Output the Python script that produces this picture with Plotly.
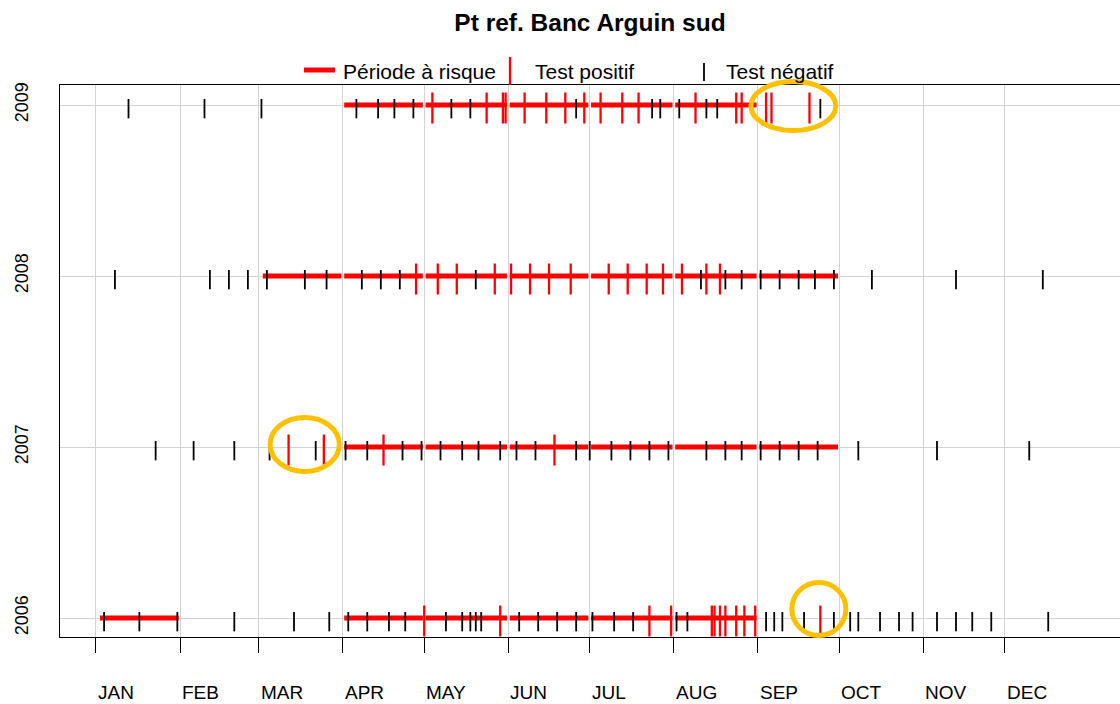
import pandas as pd
import plotly.graph_objects as go

# ---------------- data ----------------
title = "Pt ref. Banc Arguin sud"
years = [2006, 2007, 2008, 2009]
month_labels = ["JAN", "FEB", "MAR", "APR", "MAY", "JUN",
                "JUL", "AUG", "SEP", "OCT", "NOV", "DEC"]

risk_2006 = [("01-02", "02-01"), ("04-01", "09-01")]
risk_2007 = [("04-01", "10-01")]
risk_2008 = [("03-02", "10-01")]
risk_2009 = [("04-01", "09-01")]

neg_2006 = ["01-04", "01-17", "01-31", "02-21", "03-14", "03-27", "04-03", "04-10",
            "04-18", "04-24", "05-09", "05-15", "05-18", "05-20", "05-22", "06-05",
            "06-12", "06-19", "06-26", "07-02", "07-10", "07-17", "08-02", "08-06",
            "09-04", "09-07", "09-10", "09-18", "09-29", "10-05", "10-08", "10-16",
            "10-23", "10-28", "11-06", "11-13", "11-19", "11-26", "12-17"]
pos_2006 = ["05-01", "05-29", "07-23", "07-31", "08-15", "08-16", "08-18", "08-20",
            "08-24", "08-27", "08-31", "09-24"]

neg_2007 = ["01-23", "02-06", "02-21", "03-05", "03-22", "04-02", "04-10", "04-23",
            "04-30", "05-07", "05-15", "05-21", "05-29", "06-04", "06-11", "06-26",
            "07-01", "07-09", "07-16", "07-23", "07-30", "08-13", "08-20", "08-26",
            "09-02", "09-09", "09-16", "09-23", "10-08", "11-06", "12-10"]
pos_2007 = ["03-12", "03-25", "04-16", "06-18"]

neg_2008 = ["01-08", "02-12", "02-19", "02-26", "03-04", "03-18", "03-26", "04-08",
            "04-15", "04-22", "05-20", "08-11", "08-20", "08-26", "09-02", "09-09",
            "09-16", "09-22", "09-29", "10-13", "11-13", "12-15"]
pos_2008 = ["04-28", "05-06", "05-13", "05-27", "06-02", "06-09", "06-16", "06-24",
            "07-08", "07-15", "07-22", "07-28", "08-04", "08-13", "08-18"]

neg_2009 = ["01-13", "02-10", "03-02", "04-06", "04-14", "04-20", "04-27", "05-11",
            "05-18", "06-26", "07-24", "07-27", "08-03", "08-13", "08-17", "09-24"]
pos_2009 = ["05-04", "05-24", "05-30", "05-31", "06-07", "06-15", "06-22", "06-29",
            "07-05", "07-13", "07-19", "08-09", "08-24", "08-26", "09-04", "09-06",
            "09-20"]

risk = {2006: risk_2006, 2007: risk_2007, 2008: risk_2008, 2009: risk_2009}
neg = {2006: neg_2006, 2007: neg_2007, 2008: neg_2008, 2009: neg_2009}
pos = {2006: pos_2006, 2007: pos_2007, 2008: pos_2008, 2009: pos_2009}

# highlighted groups (day-of-year range, year range)
highlights = [((241.4, 272.7), (2008.851, 2009.137)),
              ((64.2, 89.7), (2006.857, 2007.173)),
              ((256.5, 276.4), (2005.898, 2006.208))]

# ---------------- helpers ----------------
REF = pd.Timestamp("2000-01-01")  # leap reference year


def doy(md):
    return (pd.Timestamp(f"2000-{md}") - REF).days


month_starts = [doy(f"{m:02d}-01") for m in range(1, 13)]

X_RANGE = [-13.25, 377.45]
Y_RANGE = [2005.889, 2009.117]

FONT = "Liberation Sans, Arial, sans-serif"
RED = "#FF0000"

# ---------------- traces ----------------
rx, ry = [], []
for yr in years:
    for s, e in risk[yr]:
        a, b = doy(s), doy(e)
        bounds = [a] + [m for m in month_starts if a < m < b] + [b]
        for i in range(len(bounds) - 1):
            rx += [bounds[i] + 0.5, bounds[i + 1] - 0.5, None]
            ry += [yr, yr, None]

nx, ny = [], []
for yr in years:
    for d in neg[yr]:
        nx += [doy(d), doy(d), None]
        ny += [yr - 0.078, yr + 0.035, None]

px_, py_ = [], []
for yr in years:
    for d in pos[yr]:
        px_ += [doy(d), doy(d), None]
        py_ += [yr - 0.108, yr + 0.073, None]

fig = go.Figure()
fig.add_trace(go.Scatter(x=rx, y=ry, mode="lines", line=dict(color=RED, width=5),
                         name="Période à risque", showlegend=False, hoverinfo="skip"))
fig.add_trace(go.Scatter(x=nx, y=ny, mode="lines", line=dict(color="black", width=1.8),
                         name="Test négatif", showlegend=False, hoverinfo="skip"))
fig.add_trace(go.Scatter(x=px_, y=py_, mode="lines", line=dict(color=RED, width=2.3),
                         name="Test positif", showlegend=False, hoverinfo="skip"))

# highlight ellipses (domain refs so they are not clipped)
for (xa, xb), (ya, yb) in highlights:
    fx = lambda v: (v - X_RANGE[0]) / (X_RANGE[1] - X_RANGE[0])
    fy = lambda v: (v - Y_RANGE[0]) / (Y_RANGE[1] - Y_RANGE[0])
    fig.add_shape(type="circle", xref="x domain", yref="y domain",
                  x0=fx(xa), x1=fx(xb), y0=fy(ya), y1=fy(yb),
                  line=dict(color="#FFC000", width=5), layer="above")

# month labels
for m, lab in zip(month_starts, month_labels):
    fig.add_annotation(x=m, xref="x", y=0, yref="paper", yshift=-55,
                       text=lab, showarrow=False, xanchor="left", yanchor="middle",
                       font=dict(family=FONT, size=19, color="black"))

# manual legend (pixel positions -> paper)
L, W, B, H = 60, 1060, 637, 552
pxp = lambda v: (v - L) / W
pyp = lambda v: (B - v) / H
fig.add_shape(type="line", xref="paper", yref="paper", x0=pxp(304), x1=pxp(335),
              y0=pyp(70), y1=pyp(70), line=dict(color=RED, width=5))
fig.add_shape(type="line", xref="paper", yref="paper", x0=pxp(510), x1=pxp(510),
              y0=pyp(57), y1=pyp(85), line=dict(color=RED, width=2.3))
fig.add_shape(type="line", xref="paper", yref="paper", x0=pxp(704), x1=pxp(704),
              y0=pyp(63), y1=pyp(81), line=dict(color="black", width=1.8))
for xpos, txt in [(341, "Période à risque"), (533, "Test positif"), (724, "Test négatif")]:
    fig.add_annotation(x=pxp(xpos), y=pyp(71), xref="paper", yref="paper",
                       text=txt, showarrow=False, xanchor="left", yanchor="middle",
                       font=dict(family=FONT, size=21, color="black"))

fig.update_layout(
    width=1120, height=704,
    margin=dict(l=60, r=0, t=85, b=67),
    paper_bgcolor="white", plot_bgcolor="white",
    title=dict(text=f"<b>{title}</b>", x=0.5, xref="paper", xanchor="center",
               y=1 - 22 / 704, yref="container", yanchor="middle",
               font=dict(family=FONT, size=24.5, color="black")),
    xaxis=dict(range=X_RANGE, tickvals=month_starts, showticklabels=False,
               ticks="outside", ticklen=15, tickcolor="black", tickwidth=1,
               showgrid=True, gridcolor="#D3D3D3", gridwidth=1, zeroline=False,
               showline=True, linecolor="black", linewidth=1, mirror=True),
    yaxis=dict(range=Y_RANGE, tickvals=years, ticktext=[str(y) for y in years],
               tickangle=-90, ticks="", ticklabelstandoff=24,
               tickfont=dict(family=FONT, size=18, color="black"),
               showgrid=True, gridcolor="#D3D3D3", gridwidth=1, zeroline=False,
               showline=True, linecolor="black", linewidth=1, mirror=True),
    showlegend=False,
)

fig.write_html("out.html")
